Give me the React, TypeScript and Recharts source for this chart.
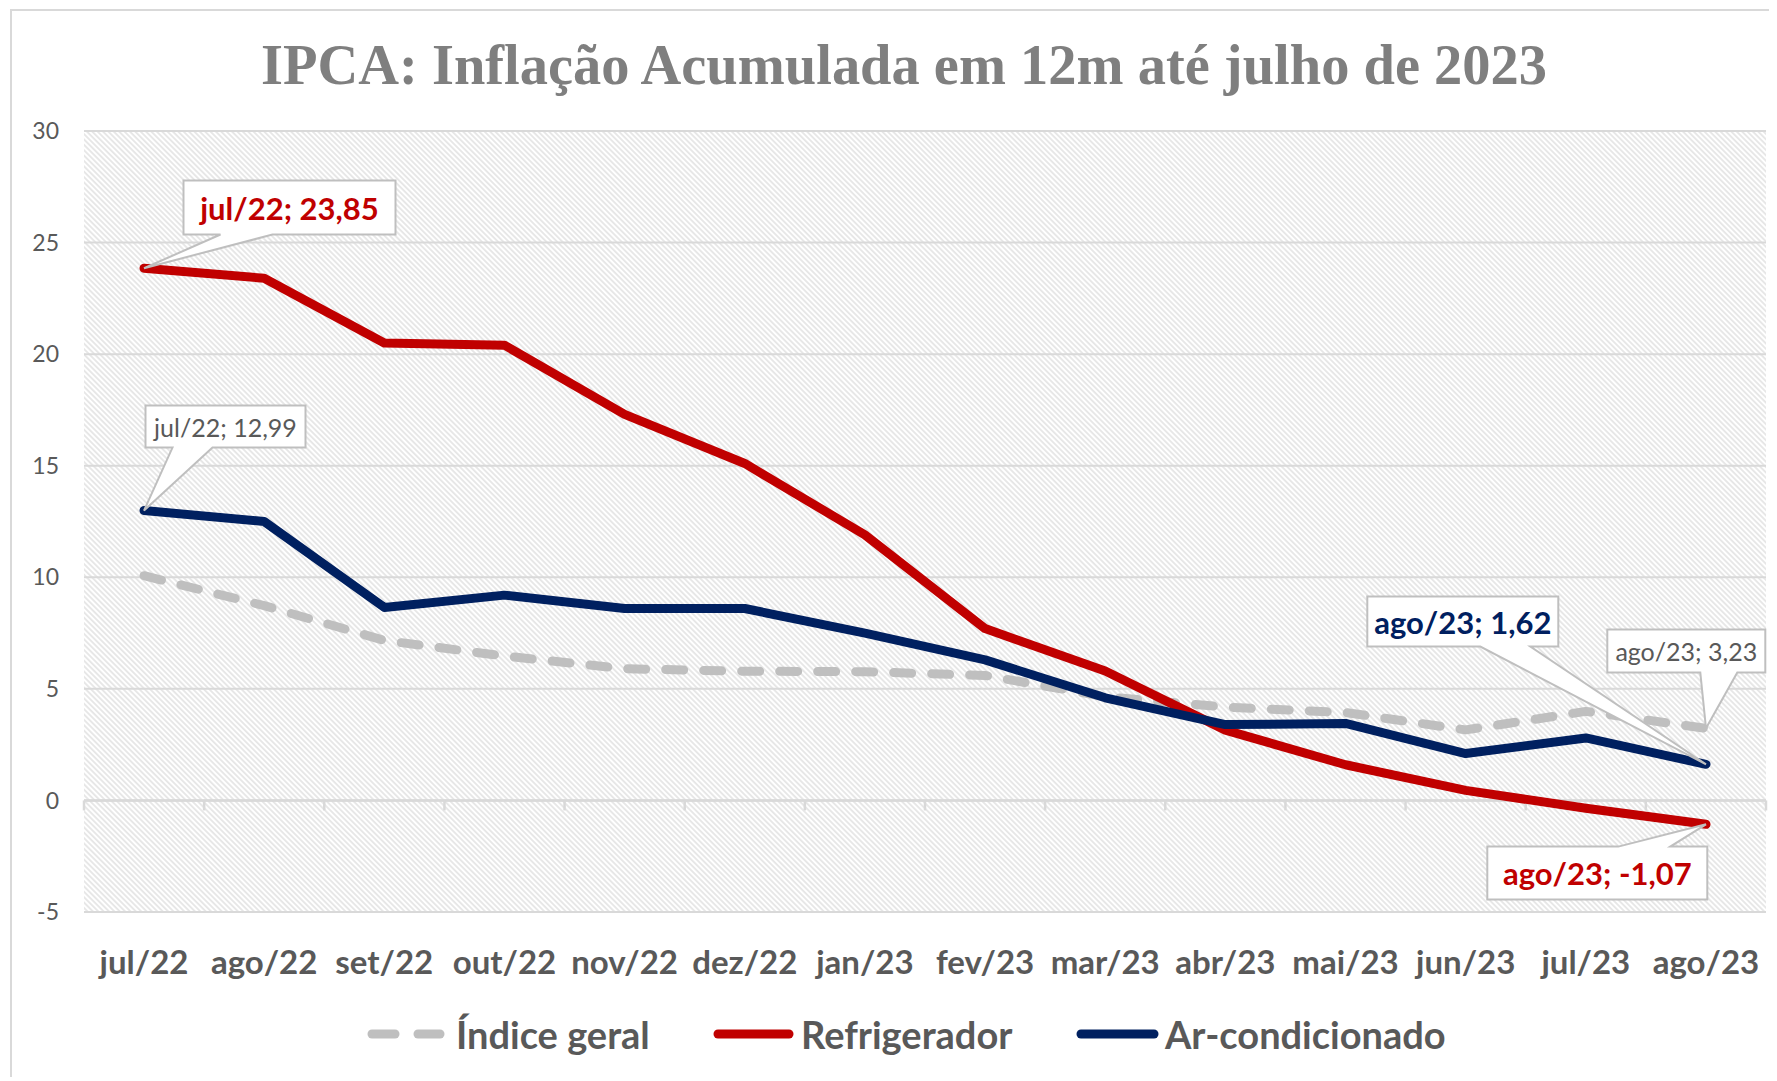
import React from 'react';
import {
  LineChart,
  Line,
  XAxis,
  YAxis,
  CartesianGrid,
  ReferenceLine,
  Legend,
  LabelList,
} from 'recharts';

const categories = ['jul/22', 'ago/22', 'set/22', 'out/22', 'nov/22', 'dez/22', 'jan/23', 'fev/23', 'mar/23', 'abr/23', 'mai/23', 'jun/23', 'jul/23', 'ago/23'];
const indiceGeral = [10.07, 8.73, 7.17, 6.47, 5.9, 5.79, 5.77, 5.6, 4.65, 4.18, 3.94, 3.16, 3.99, 3.23];
const refrigerador = [23.85, 23.4, 20.5, 20.4, 17.3, 15.1, 11.9, 7.7, 5.8, 3.15, 1.6, 0.45, -0.35, -1.07];
const arCondicionado = [12.99, 12.5, 8.65, 9.2, 8.6, 8.6, 7.5, 6.3, 4.6, 3.4, 3.45, 2.1, 2.8, 1.62];
const yTicks = [-5, 0, 5, 10, 15, 20, 25, 30];
const seriesNames = ['Índice geral', 'Refrigerador', 'Ar-condicionado'];
const titleText = 'IPCA: Inflação Acumulada em 12m até julho de 2023';

const data = categories.map((cat, i) => ({
  cat,
  geral: indiceGeral[i],
  ref: refrigerador[i],
  ar: arCondicionado[i],
}));

const W = 1763;
const H = 1066;
const GRAY = '#BFBFBF';
const RED = '#C00000';
const NAVY = '#002060';
const TEXT = '#595959';
const FONT = 'Lato, "Open Sans", sans-serif';

const LAST = categories.length - 1;

type CalloutSpec = {
  bx: [number, number];
  by: [number, number];
  base: [number, number];
  top?: boolean;
  color: string;
  bold: boolean;
  size: number;
};

const fmt = (v: number) => v.toFixed(2).replace('.', ',');

const drawCallout = (px: number, py: number, text: string, s: CalloutSpec) => {
  const x0 = px + s.bx[0];
  const x1 = px + s.bx[1];
  const y0 = py + s.by[0];
  const y1 = py + s.by[1];
  const a = px + s.base[0];
  const b = px + s.base[1];
  const d = s.top
    ? `M${x0},${y0} H${a} L${px},${py} L${b},${y0} H${x1} V${y1} H${x0} Z`
    : `M${x0},${y0} H${x1} V${y1} H${b} L${px},${py} L${a},${y1} H${x0} Z`;
  return (
    <g>
      <path d={d} fill="#FFFFFF" stroke={GRAY} strokeWidth={2} strokeLinejoin="miter" />
      <text
        x={(x0 + x1) / 2}
        y={(y0 + y1) / 2}
        textAnchor="middle"
        dominantBaseline="central"
        fill={s.color}
        fontSize={s.size}
        fontWeight={s.bold ? 700 : 400}
        fontFamily={FONT}
      >
        {text}
      </text>
    </g>
  );
};

const makeLabel = (specs: Record<number, CalloutSpec>) => (props: any) => {
  const { x, y, index, value } = props;
  const s = specs[index];
  if (!s || x == null || y == null) return null;
  return drawCallout(Number(x), Number(y), `${categories[index]}; ${fmt(Number(value))}`, s);
};

const refLabels = makeLabel({
  0: { bx: [39.5, 251.5], by: [-87.7, -33.7], base: [76.5, 128.5], color: RED, bold: true, size: 31 },
  [LAST]: { bx: [-218.7, 1.3], by: [22.3, 75.3], base: [-87.7, -35.7], top: true, color: RED, bold: true, size: 31 },
});
const arLabels = makeLabel({
  0: { bx: [1.5, 161.5], by: [-105, -63], base: [28.5, 68.5], color: TEXT, bold: false, size: 25 },
  [LAST]: { bx: [-338.7, -147.7], by: [-167.7, -117.7], base: [-225.7, -175.7], color: NAVY, bold: true, size: 31 },
});
const geralLabels = makeLabel({
  [LAST]: { bx: [-98.7, 59.3], by: [-98.8, -55.8], base: [-5.7, 31.3], color: TEXT, bold: false, size: 25 },
});

const XTick = (props: any) => {
  const { x, y, payload } = props;
  return (
    <text
      x={x}
      y={y + 49}
      textAnchor="middle"
      dominantBaseline="central"
      fill={TEXT}
      fontSize={33}
      fontWeight={700}
      fontFamily={FONT}
    >
      {payload.value}
    </text>
  );
};

const ZeroLine = (props: any) => {
  const { x1, y1, x2, y2 } = props;
  if (x1 == null) return null;
  const n = categories.length;
  const step = (x2 - x1) / n;
  const ticks = [];
  for (let i = 0; i <= n; i++) {
    const tx = x1 + i * step;
    ticks.push(<line key={i} x1={tx} y1={y1} x2={tx} y2={y1 + 10} stroke="#D9D9D9" strokeWidth={2.5} />);
  }
  return (
    <g>
      <line x1={x1} y1={y1} x2={x2} y2={y2} stroke="#D9D9D9" strokeWidth={2.5} />
      {ticks}
    </g>
  );
};

const renderLegend = () => {
  const cy = 25;
  const ts = { fill: TEXT, fontSize: 38, fontWeight: 700, fontFamily: FONT } as const;
  return (
    <svg width={W} height={50} style={{ display: 'block' }}>
      <line x1={360} y1={cy} x2={383} y2={cy} stroke={GRAY} strokeWidth={9} strokeLinecap="round" />
      <line x1={406} y1={cy} x2={428} y2={cy} stroke={GRAY} strokeWidth={9} strokeLinecap="round" />
      <text x={444} y={cy} dominantBaseline="central" {...ts}>{seriesNames[0]}</text>
      <line x1={706} y1={cy} x2={777} y2={cy} stroke={RED} strokeWidth={9} strokeLinecap="round" />
      <text x={789} y={cy} dominantBaseline="central" {...ts}>{seriesNames[1]}</text>
      <line x1={1069} y1={cy} x2={1142} y2={cy} stroke={NAVY} strokeWidth={9} strokeLinecap="round" />
      <text x={1153} y={cy} dominantBaseline="central" {...ts}>{seriesNames[2]}</text>
    </svg>
  );
};

export default function App() {
  return (
    <div
      style={{
        marginLeft: 2,
        marginTop: 1,
        borderLeft: '2px solid #D9D9D9',
        borderTop: '2px solid #D9D9D9',
        width: W,
        height: H,
        background: '#FFFFFF',
      }}
    >
      <LineChart width={W} height={H} data={data} margin={{ top: 120, right: 9, left: 0, bottom: 18 }}>
        <defs>
          <pattern id="hatch" width="3.8" height="3.8" patternUnits="userSpaceOnUse" patternTransform="rotate(45)">
            <rect width="3.8" height="3.8" fill="#FFFFFF" />
            <line x1="0" y1="1.9" x2="3.8" y2="1.9" stroke="#DDDDDD" strokeWidth="1.3" />
          </pattern>
        </defs>
        <text
          x={892}
          y={73}
          textAnchor="middle"
          fill="#7F7F7F"
          fontSize={56}
          fontWeight={700}
          fontFamily='"Liberation Serif", "DejaVu Serif", serif'
          textLength={1286}
          lengthAdjust="spacingAndGlyphs"
        >
          {titleText}
        </text>
        <CartesianGrid vertical={false} stroke="#D9D9D9" strokeWidth={2} fill="url(#hatch)" fillOpacity={1} />
        <XAxis
          dataKey="cat"
          interval={0}
          axisLine={false}
          tickLine={false}
          tickSize={0}
          tickMargin={0}
          height={97}
          padding={{ left: 60, right: 60 }}
          tick={<XTick />}
        />
        <YAxis
          type="number"
          domain={[-5, 30]}
          ticks={yTicks}
          axisLine={false}
          tickLine={false}
          tickSize={0}
          tickMargin={25}
          width={72}
          tick={{ fill: TEXT, fontSize: 23, fontFamily: FONT }}
        />
        <ReferenceLine y={0} shape={<ZeroLine />} />
        <Legend verticalAlign="bottom" align="left" content={renderLegend} wrapperStyle={{ left: 0, width: W, height: 50 }} />
        <Line
          name={seriesNames[0]}
          dataKey="geral"
          stroke={GRAY}
          strokeWidth={9}
          strokeDasharray="18 20"
          strokeLinecap="round"
          strokeLinejoin="round"
          dot={false}
          activeDot={false}
          isAnimationActive={false}
        >
          <LabelList dataKey="geral" content={geralLabels} />
        </Line>
        <Line
          name={seriesNames[1]}
          dataKey="ref"
          stroke={RED}
          strokeWidth={9}
          strokeLinecap="round"
          strokeLinejoin="round"
          dot={false}
          activeDot={false}
          isAnimationActive={false}
        >
          <LabelList dataKey="ref" content={refLabels} />
        </Line>
        <Line
          name={seriesNames[2]}
          dataKey="ar"
          stroke={NAVY}
          strokeWidth={9}
          strokeLinecap="round"
          strokeLinejoin="round"
          dot={false}
          activeDot={false}
          isAnimationActive={false}
        >
          <LabelList dataKey="ar" content={arLabels} />
        </Line>
      </LineChart>
    </div>
  );
}
